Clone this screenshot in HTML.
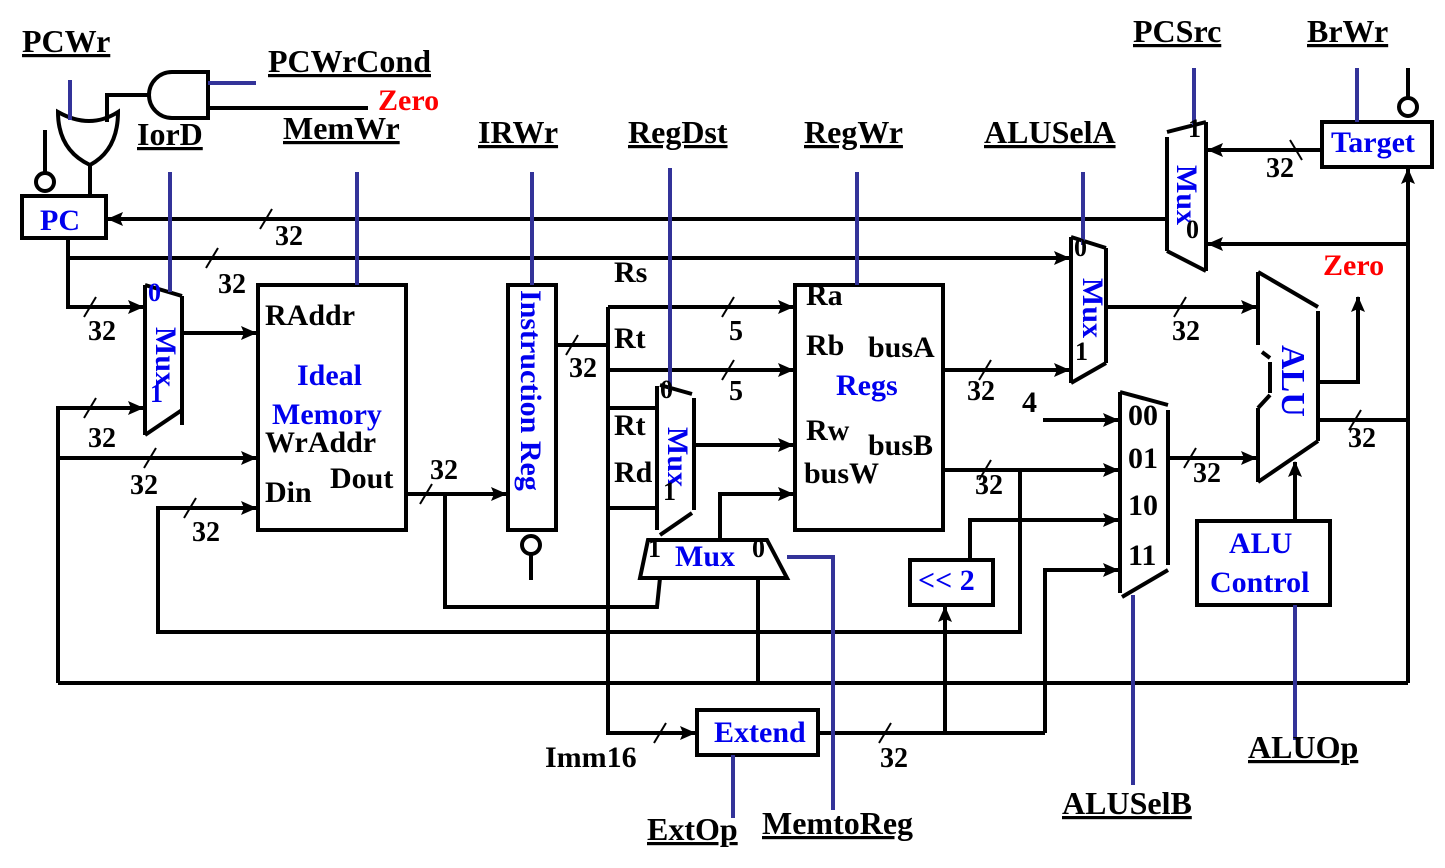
<!DOCTYPE html>
<html><head><meta charset="utf-8"><style>
html,body{margin:0;padding:0;background:#fff}
svg{display:block}
text{font-family:"Liberation Serif",serif;font-weight:bold}
.k{fill:#000;font-size:30px}
.c{fill:#000;font-size:32px;text-decoration:underline}
.b{fill:#0000ee;font-size:30px}
.r{fill:#f00;font-size:30px}
.n{fill:#000;font-size:28px}
</style></head><body>
<svg width="1445" height="868" viewBox="0 0 1445 868" xmlns="http://www.w3.org/2000/svg">
<defs>
<marker id="A" markerWidth="16" markerHeight="14" refX="15" refY="7" orient="auto" markerUnits="userSpaceOnUse"><path d="M0,0 L16,7 L0,14 L3,7 z" fill="#000"/></marker></defs>
<g stroke="#000" stroke-width="4" fill="none">
<path d="M58,112 Q90,130 118,112 Q118,150 90,165 Q58,150 58,112 z"/>
<line x1="90" y1="165" x2="90" y2="196"/>
<polyline points="107,122 107,95 148,95"/>
<path d="M172,72 L208,72 L208,118 L172,118 A23,23 0 0 1 172,72 z"/>
<line x1="208" y1="108" x2="368" y2="108"/>
<rect x="22" y="196" width="84" height="42"/>
<circle cx="45" cy="182" r="9"/><line x1="45" y1="173" x2="45" y2="130"/>
<line x1="1168" y1="219" x2="108" y2="219" marker-end="url(#A)"/>
<polyline points="68,238 68,307 143,307" marker-end="url(#A)"/>
<line x1="68" y1="258" x2="1069" y2="258" marker-end="url(#A)"/>
<path d="M145,285 L182,296 M182,296 L182,425 M145,435 L182,410 M145,285 L145,435"/>
<line x1="182" y1="333" x2="256" y2="333" marker-end="url(#A)"/>
<polyline points="58,683 58,408 143,408" marker-end="url(#A)"/>
<line x1="58" y1="458" x2="256" y2="458" marker-end="url(#A)"/>
<polyline points="1020,470 1020,632 158,632 158,508 256,508" marker-end="url(#A)"/>
<rect x="258" y="285" width="148" height="245"/>
<line x1="406" y1="494" x2="506" y2="494" marker-end="url(#A)"/>
<polyline points="445,494 445,607 657,607 660,578"/>
<rect x="508" y="285" width="48" height="245"/>
<circle cx="531" cy="545" r="9"/><line x1="531" y1="554" x2="531" y2="580"/>
<polyline points="556,345 608,345"/>
<polyline points="608,307 608,733 695,733" marker-end="url(#A)"/>
<line x1="608" y1="307" x2="793" y2="307" marker-end="url(#A)"/>
<line x1="608" y1="370" x2="793" y2="370" marker-end="url(#A)"/>
<line x1="608" y1="408" x2="657" y2="408"/>
<line x1="608" y1="508" x2="657" y2="508"/>
<path d="M657,386 L657,530 M660,385 L692,394 M694,398 L694,510 M660,535 L692,513"/>
<line x1="694" y1="445" x2="793" y2="445" marker-end="url(#A)"/>
<path d="M648,540 L767,540 L787,578 L640,578 z"/>
<polyline points="720,540 720,494 793,494" marker-end="url(#A)"/>
<line x1="758" y1="580" x2="758" y2="683"/>
<rect x="795" y="285" width="148" height="245"/>
<line x1="943" y1="370" x2="1069" y2="370" marker-end="url(#A)"/>
<line x1="943" y1="470" x2="1118" y2="470" marker-end="url(#A)"/>
<path d="M1071,237 L1071,383 M1071,237 L1106,248 M1106,248 L1106,363 M1071,383 L1106,363"/>
<line x1="1106" y1="307" x2="1256" y2="307" marker-end="url(#A)"/>
<path d="M1167,137 L1167,251 M1167,132 L1206,122 M1206,122 L1206,271 M1167,251 L1206,271"/>
<rect x="1322" y="122" width="110" height="45"/>
<circle cx="1408" cy="107" r="9"/><line x1="1408" y1="98" x2="1408" y2="68"/>
<line x1="1322" y1="150" x2="1208" y2="150" marker-end="url(#A)"/>
<line x1="1408" y1="683" x2="1408" y2="169" marker-end="url(#A)"/>
<line x1="1408" y1="244" x2="1208" y2="244" marker-end="url(#A)"/>
<line x1="58" y1="683" x2="1408" y2="683"/>
<path d="M1258,272 L1258,345 M1262,352 L1270,358 M1270,362 L1270,393 M1270,395 L1258,408 M1258,408 L1258,482 M1258,272 L1318,307 M1318,311 L1318,441 M1258,482 L1318,441"/>
<line x1="1320" y1="420" x2="1408" y2="420"/>
<polyline points="1320,382 1358,382 1358,297" marker-end="url(#A)"/>
<line x1="1168" y1="458" x2="1256" y2="458" marker-end="url(#A)"/>
<rect x="1197" y="521" width="133" height="84"/>
<line x1="1295" y1="521" x2="1295" y2="462" marker-end="url(#A)"/>
<path d="M1120,392 L1120,593 M1120,392 L1168,405 M1168,410 L1168,565 M1122,597 L1168,570"/>
<line x1="1043" y1="420" x2="1118" y2="420" marker-end="url(#A)"/>
<polyline points="970,560 970,520 1118,520" marker-end="url(#A)"/>
<polyline points="1045,733 1045,570 1118,570" marker-end="url(#A)"/>
<rect x="910" y="560" width="83" height="45"/>
<line x1="945" y1="733" x2="945" y2="607" marker-end="url(#A)"/>
<rect x="697" y="710" width="121" height="45"/>
<line x1="818" y1="733" x2="1045" y2="733"/>
<g stroke-width="2">
<line x1="260" y1="229" x2="272" y2="209"/><line x1="206" y1="268" x2="218" y2="248"/>
<line x1="84" y1="317" x2="96" y2="297"/><line x1="84" y1="418" x2="96" y2="398"/>
<line x1="144" y1="468" x2="156" y2="448"/><line x1="184" y1="518" x2="196" y2="498"/>
<line x1="420" y1="504" x2="432" y2="484"/><line x1="566" y1="355" x2="578" y2="335"/>
<line x1="722" y1="317" x2="734" y2="297"/><line x1="722" y1="380" x2="734" y2="360"/>
<line x1="654" y1="743" x2="666" y2="723"/><line x1="979" y1="380" x2="991" y2="360"/>
<line x1="979" y1="480" x2="991" y2="460"/><line x1="1174" y1="317" x2="1186" y2="297"/>
<line x1="1184" y1="468" x2="1196" y2="448"/><line x1="1349" y1="430" x2="1361" y2="410"/>
<line x1="879" y1="743" x2="891" y2="723"/><line x1="1290" y1="140" x2="1302" y2="160"/>
</g>
</g>
<g stroke="#333399" stroke-width="4">
<line x1="70" y1="80" x2="70" y2="120"/><line x1="208" y1="83" x2="256" y2="83"/>
<line x1="170" y1="172" x2="170" y2="292"/><line x1="357" y1="172" x2="357" y2="285"/>
<line x1="532" y1="172" x2="532" y2="285"/><line x1="670" y1="168" x2="670" y2="392"/>
<line x1="857" y1="172" x2="857" y2="285"/><line x1="1083" y1="172" x2="1083" y2="245"/>
<line x1="1194" y1="68" x2="1194" y2="125"/><line x1="1357" y1="68" x2="1357" y2="122"/>
<polyline points="787,557 833,557 833,810" fill="none"/>
<line x1="1133" y1="595" x2="1133" y2="785"/><line x1="1295" y1="605" x2="1295" y2="740"/>
<line x1="733" y1="755" x2="733" y2="818"/>
</g>
<text class="c" x="22" y="52">PCWr</text>
<text class="c" x="268" y="72">PCWrCond</text>
<text class="r" x="378" y="110">Zero</text>
<text class="c" x="283" y="139">MemWr</text>
<text class="c" x="137" y="145">IorD</text>
<text class="c" x="478" y="143">IRWr</text>
<text class="c" x="628" y="143">RegDst</text>
<text class="c" x="804" y="143">RegWr</text>
<text class="c" x="984" y="143">ALUSelA</text>
<text class="c" x="1133" y="42">PCSrc</text>
<text class="c" x="1307" y="42">BrWr</text>
<text class="c" x="1248" y="758">ALUOp</text>
<text class="c" x="1062" y="814">ALUSelB</text>
<text class="c" x="647" y="840">ExtOp</text>
<text class="c" x="762" y="834">MemtoReg</text>
<text class="k" x="545" y="767">Imm16</text>
<text class="b" x="40" y="230">PC</text>
<text class="k" x="265" y="325">RAddr</text>
<text class="b" x="297" y="385">Ideal</text>
<text class="b" x="272" y="424">Memory</text>
<text class="k" x="265" y="452">WrAddr</text>
<text class="k" x="265" y="502">Din</text>
<text class="k" x="330" y="488">Dout</text>
<text class="b" transform="translate(521,290) rotate(90)">Instruction Reg</text>
<text class="k" x="614" y="282">Rs</text>
<text class="k" x="614" y="348">Rt</text>
<text class="k" x="614" y="435">Rt</text>
<text class="k" x="614" y="482">Rd</text>
<text class="k" x="806" y="305">Ra</text>
<text class="k" x="806" y="355">Rb</text>
<text class="k" x="868" y="357">busA</text>
<text class="b" x="836" y="395">Regs</text>
<text class="k" x="806" y="440">Rw</text>
<text class="k" x="868" y="455">busB</text>
<text class="k" x="804" y="483">busW</text>
<text class="b" x="714" y="742">Extend</text>
<text class="b" x="918" y="590">&lt;&lt; 2</text>
<text class="b" x="1229" y="553">ALU</text>
<text class="b" x="1210" y="592">Control</text>
<text class="b" x="1331" y="152">Target</text>
<text class="r" x="1323" y="275">Zero</text>
<text class="b" transform="translate(1282,345) rotate(90)" style="font-size:34px">ALU</text>
<text class="b" transform="translate(156,327) rotate(90)">Mux</text>
<text class="b" x="148" y="301" style="font-size:26px">0</text>
<text class="b" x="150" y="402" style="font-size:26px">1</text>
<text class="b" transform="translate(668,427) rotate(90)">Mux</text>
<text class="n" x="660" y="398" style="font-size:26px">0</text>
<text class="n" x="663" y="500" style="font-size:26px">1</text>
<text class="b" x="675" y="566">Mux</text>
<text class="n" x="648" y="557" style="font-size:26px">1</text>
<text class="n" x="752" y="557" style="font-size:26px">0</text>
<text class="b" transform="translate(1083,278) rotate(90)">Mux</text>
<text class="n" x="1074" y="256" style="font-size:26px">0</text>
<text class="n" x="1075" y="360" style="font-size:26px">1</text>
<text class="b" transform="translate(1177,165) rotate(90)">Mux</text>
<text class="n" x="1188" y="137" style="font-size:26px">1</text>
<text class="n" x="1186" y="238" style="font-size:26px">0</text>
<text class="k" x="1128" y="425">00</text>
<text class="k" x="1128" y="468">01</text>
<text class="k" x="1128" y="515">10</text>
<text class="k" x="1128" y="565">11</text>
<text class="k" x="1022" y="412">4</text>
<text class="n" x="275" y="245">32</text><text class="n" x="218" y="293">32</text>
<text class="n" x="88" y="340">32</text><text class="n" x="88" y="447">32</text>
<text class="n" x="130" y="494">32</text><text class="n" x="192" y="541">32</text>
<text class="n" x="430" y="479">32</text><text class="n" x="569" y="377">32</text>
<text class="n" x="729" y="340">5</text><text class="n" x="729" y="400">5</text>
<text class="n" x="967" y="400">32</text><text class="n" x="975" y="494">32</text>
<text class="n" x="1172" y="340">32</text><text class="n" x="1193" y="482">32</text>
<text class="n" x="1348" y="447">32</text><text class="n" x="880" y="767">32</text>
<text class="n" x="1266" y="177">32</text>
</svg>
</body></html>
